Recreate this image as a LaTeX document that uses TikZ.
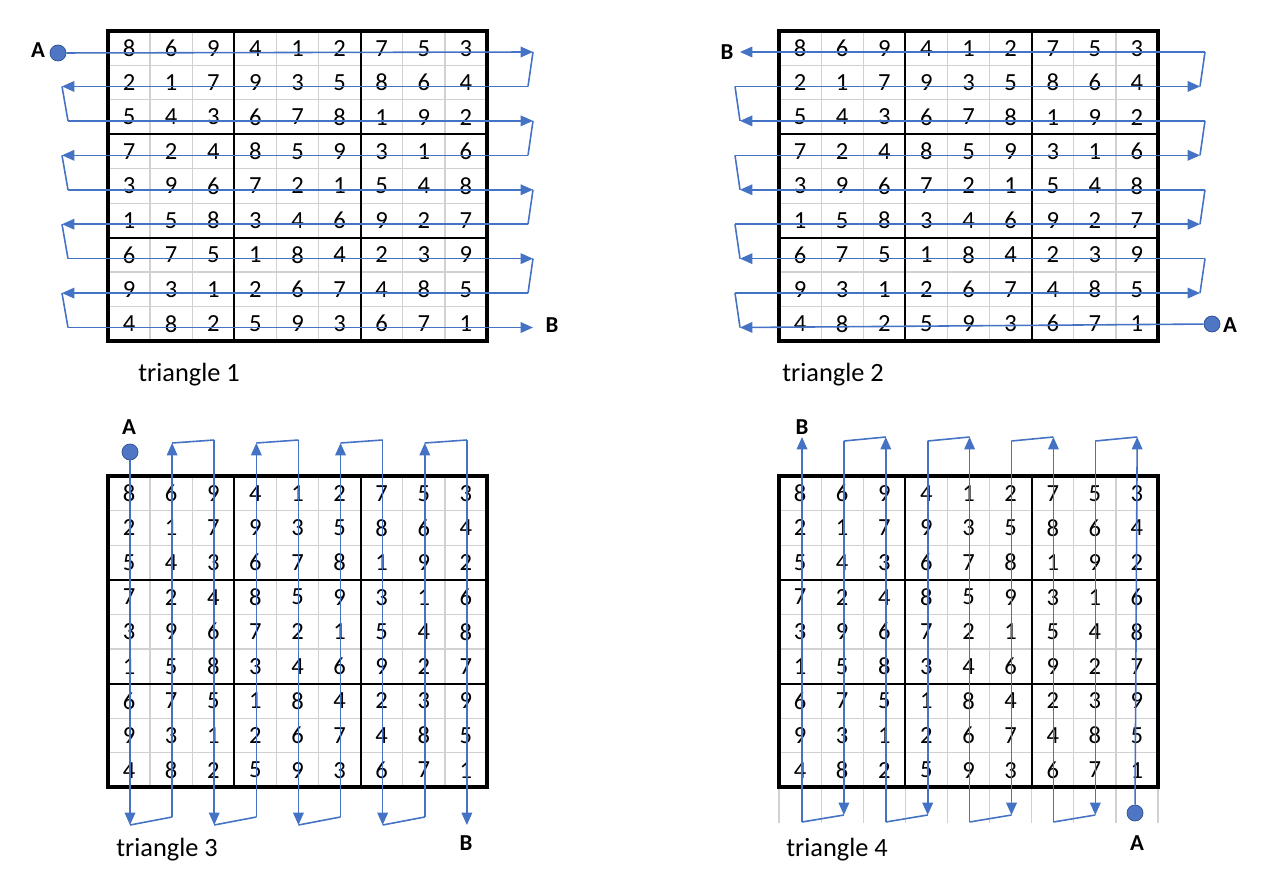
\documentclass[tikz,border=0pt]{standalone}
\usepackage{fontspec}
\setmainfont{Carlito}
\usetikzlibrary{arrows.meta}
\definecolor{pathblue}{HTML}{4472C4}
\definecolor{dotblue}{HTML}{4F76C4}

\tikzset{
  digit/.style={font=\fontsize{14}{14}\selectfont, inner sep=0pt},
  caption/.style={font=\fontsize{15}{15}\selectfont, anchor=west, inner sep=0pt},
  endlabel/.style={font=\fontsize{13}{13}\selectfont\bfseries, inner sep=0pt},
  dot/.style={circle, fill=dotblue, draw=pathblue!70!black, minimum size=0.32cm, inner sep=0pt},
  cellline/.style={draw=black!18, line width=0.7pt},
  boxline/.style={draw=black, line width=1.2pt},
  frameline/.style={draw=black, line width=2.3pt},
  route/.style={draw=pathblue, line width=0.9pt, -{Triangle[length=7pt,width=6pt]}},
  link/.style={draw=pathblue, line width=0.9pt},
}

% one sudoku grid, top left corner at (#1,#2), cell height #3
\newcommand\sudokugrid[3]{%
  \begin{scope}[shift={(#1,#2)}]
    \foreach \k in {1,2,4,5,7,8}{
      \draw[cellline] (\k*42.11,0) -- (\k*42.11,9*#3);
      \draw[cellline] (0,\k*#3) -- (9*42.11,\k*#3);
    }
    \foreach \row [count=\r] in {{8,6,9,4,1,2,7,5,3},{2,1,7,9,3,5,8,6,4},
        {5,4,3,6,7,8,1,9,2},{7,2,4,8,5,9,3,1,6},{3,9,6,7,2,1,5,4,8},
        {1,5,8,3,4,6,9,2,7},{6,7,5,1,8,4,2,3,9},{9,3,1,2,6,7,4,8,5},
        {4,8,2,5,9,3,6,7,1}}
      \foreach \d [count=\c] in \row
        \node[digit] at (\c*42.11-21.05,\r*#3-#3/2) {\d};
    \foreach \k in {3,6}{
      \draw[boxline] (\k*42.11,0) -- (\k*42.11,9*#3);
      \draw[boxline] (0,\k*#3) -- (9*42.11,\k*#3);
    }
    \draw[frameline] (0,0) rectangle (9*42.11,9*#3);
  \end{scope}}

\begin{document}
\begin{tikzpicture}[x=0.02cm, y=-0.02cm]
\useasboundingbox (0,0) rectangle (1284,878);

\sudokugrid{108}{31}{34.44}
\sudokugrid{779}{31}{34.44}
\sudokugrid{108}{476}{34.6}
% sheet lines under the last grid
\foreach \k in {0,...,9}
  \draw[cellline] (779+\k*42.11,788) -- (779+\k*42.11,823);
\sudokugrid{779}{476}{34.6}

% triangle 1
\node[dot] (A1) at (58,53) {};
\node[endlabel] (A1t) at (38,50) {A};
\node[endlabel] (B1) at (552,325) {B};
\foreach \r in {1,...,9}{
  \pgfmathsetmacro\y{52+34.44*(\r-1)}
  \ifodd\r
    \coordinate (p1l\r) at (68,\y); \coordinate (p1r\r) at (533,\y);
  \else
    \coordinate (p1l\r) at (62,\y); \coordinate (p1r\r) at (528,\y);
  \fi}
\draw[route] (A1) -- (p1r1);
\foreach \r in {3,5,7,9} \draw[route] (p1l\r) -- (p1r\r);
\foreach \r in {2,4,6,8} \draw[route] (p1r\r) -- (p1l\r);
\foreach \r/\s in {1/2,3/4,5/6,7/8} \draw[link] (p1r\r) -- (p1r\s);
\foreach \r/\s in {2/3,4/5,6/7,8/9} \draw[link] (p1l\r) -- (p1l\s);
\node[caption] (t1) at (138,375) {triangle 1};

% triangle 2
\node[dot] (A2) at (1212,324) {};
\node[endlabel] (A2t) at (1230,325) {A};
\node[endlabel] (B2) at (727,52) {B};
\foreach \r in {1,...,9}{
  \pgfmathsetmacro\y{52+34.44*(\r-1)}
  \ifodd\r
    \coordinate (p2l\r) at (740,\y); \coordinate (p2r\r) at (1205,\y);
  \else
    \coordinate (p2l\r) at (735,\y); \coordinate (p2r\r) at (1200,\y);
  \fi}
\draw[route] (A2) -- (p2l9);
\foreach \r in {1,3,5,7} \draw[route] (p2r\r) -- (p2l\r);
\foreach \r in {2,4,6,8} \draw[route] (p2l\r) -- (p2r\r);
\foreach \r/\s in {9/8,7/6,5/4,3/2} \draw[link] (p2l\r) -- (p2l\s);
\foreach \r/\s in {8/7,6/5,4/3,2/1} \draw[link] (p2r\r) -- (p2r\s);
\node[caption] (t2) at (782,375) {triangle 2};

% triangle 3
\node[dot] (A3) at (130,452) {};
\node[endlabel] (A3t) at (129,427) {A};
\node[endlabel] (B3) at (466,843) {B};
\foreach \c in {1,...,9}{
  \pgfmathsetmacro\x{130+42.11*(\c-1)}
  \ifodd\c
    \coordinate (p3t\c) at (\x,440); \coordinate (p3b\c) at (\x,825);
  \else
    \coordinate (p3t\c) at (\x,443); \coordinate (p3b\c) at (\x,817);
  \fi}
\draw[route] (A3) -- (p3b1);
\foreach \c in {3,5,7,9} \draw[route] (p3t\c) -- (p3b\c);
\foreach \c in {2,4,6,8} \draw[route] (p3b\c) -- (p3t\c);
\foreach \c/\d in {1/2,3/4,5/6,7/8} \draw[link] (p3b\c) -- (p3b\d);
\foreach \c/\d in {2/3,4/5,6/7,8/9} \draw[link] (p3t\c) -- (p3t\d);
\node[caption] (t3) at (116,850) {triangle 3};

% triangle 4
\node[dot] (A4) at (1135,813) {};
\node[endlabel] (A4t) at (1137,843) {A};
\node[endlabel] (B4) at (802,427) {B};
\foreach \c in {1,...,9}{
  \pgfmathsetmacro\x{802+41.9*(\c-1)}
  \ifodd\c
    \coordinate (p4t\c) at (\x,437); \coordinate (p4b\c) at (\x,822);
  \else
    \coordinate (p4t\c) at (\x,441); \coordinate (p4b\c) at (\x,815);
  \fi}
\draw[route] (A4) -- (p4t9);
\foreach \c in {1,3,5,7} \draw[route] (p4b\c) -- (p4t\c);
\foreach \c in {2,4,6,8} \draw[route] (p4t\c) -- (p4b\c);
\foreach \c/\d in {9/8,7/6,5/4,3/2} \draw[link] (p4t\c) -- (p4t\d);
\foreach \c/\d in {8/7,6/5,4/3,2/1} \draw[link] (p4b\c) -- (p4b\d);
\node[caption] (t4) at (786,850) {triangle 4};
\end{tikzpicture}
\end{document}
